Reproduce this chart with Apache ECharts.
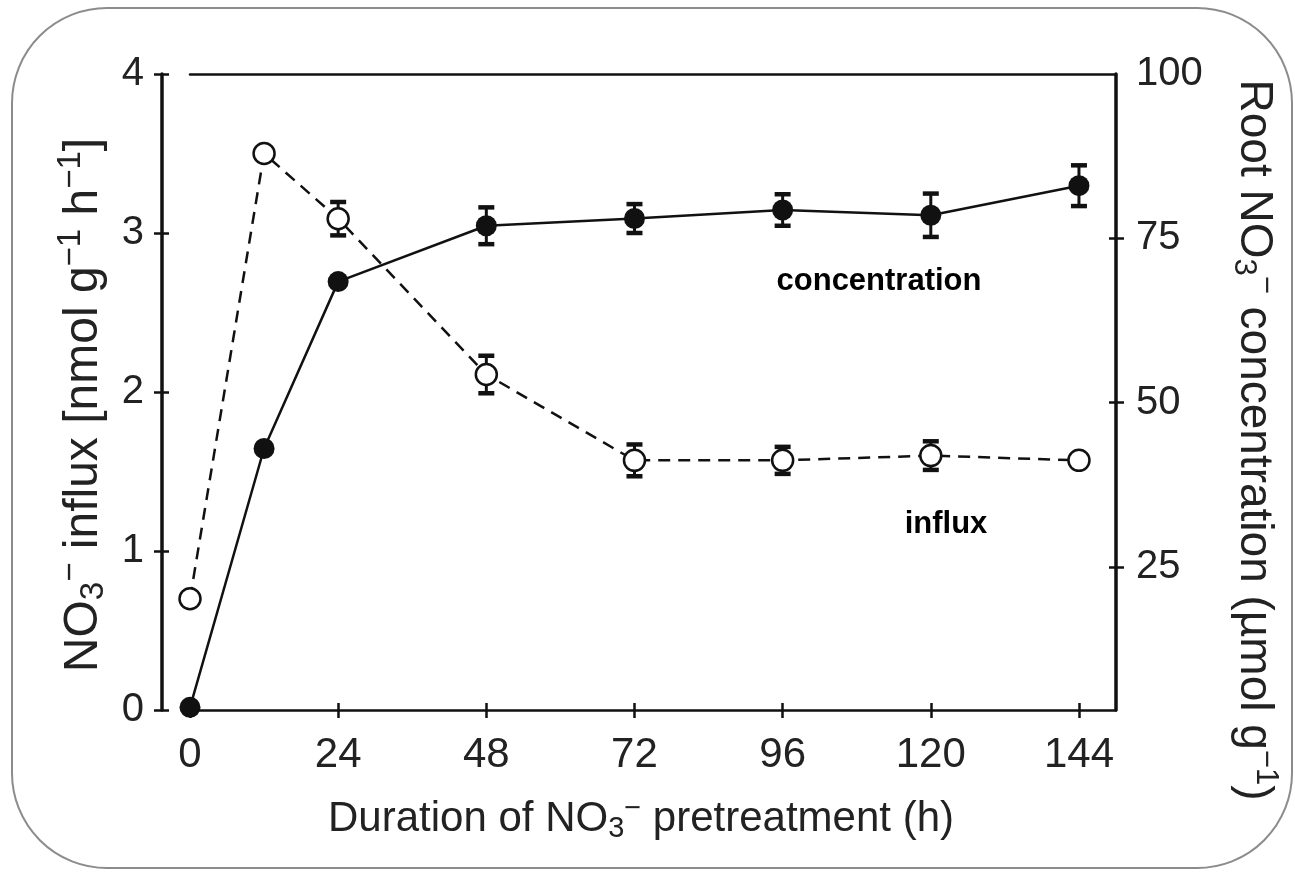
<!DOCTYPE html>
<html>
<head>
<meta charset="utf-8">
<script src="https://cdn.jsdelivr.net/npm/echarts@6/dist/echarts.min.js"></script>
<style>
html,body{margin:0;padding:0;background:#fff;}
#chart{width:1295px;height:874px;}
</style>
</head>
<body>
<div id="chart"></div>
<script>
// ---- data ----
const hours = [0, 12, 24, 48, 72, 96, 120, 144];
const influx = [0.70, 3.50, 3.09, 2.11, 1.57, 1.57, 1.60, 1.57];
const influxErr = [0, 0, 0.105, 0.118, 0.10, 0.085, 0.09, 0];
const concentration = [3.6, 43.0, 68.4, 76.9, 78.0, 79.3, 78.5, 83.0];
const concentrationErr = [0, 0, 0, 2.8, 2.2, 2.4, 3.3, 3.1];
const xTicks = [0, 24, 48, 72, 96, 120, 144];
const leftTicks = [0, 1, 2, 3, 4];
const rightLabels = [25, 50, 75, 100];
const rightTickMarks = [25, 50, 75];
const labelConcentration = 'concentration';
const labelInflux = 'influx';

const FONT = '"Liberation Sans", Arial, Helvetica, sans-serif';
const INK = '#111';
const TXT = '#222';

const chart = echarts.init(document.getElementById('chart'), null, {renderer: 'canvas'});

function richStyles(size) {
  return {
    n: {fontSize: size, fontFamily: FONT, color: TXT},
    sub: {fontSize: Math.round(size * 0.68), fontFamily: FONT, color: TXT, padding: [Math.round(size * 0.45), 0, 0, 0]},
    sup: {fontSize: Math.round(size * 0.68), fontFamily: FONT, color: TXT, padding: [0, 0, Math.round(size * 0.5), 0]}
  };
}

const pts = (ys) => hours.map((h, i) => [h, ys[i]]);
const errPts = (ys, es) => hours.map((h, i) => [h, ys[i], es[i]]);

function errorBar(params, api) {
  const x = api.value(0), y = api.value(1), e = api.value(2);
  if (!e) return null;
  const t = api.coord([x, y + e]);
  const b = api.coord([x, y - e]);
  const hw = 8;
  return {
    type: 'group',
    children: [
      {type: 'line', shape: {x1: t[0], y1: t[1], x2: b[0], y2: b[1]}, style: {stroke: INK, lineWidth: 3}},
      {type: 'line', shape: {x1: t[0] - hw, y1: t[1], x2: t[0] + hw, y2: t[1]}, style: {stroke: INK, lineWidth: 4.5}},
      {type: 'line', shape: {x1: b[0] - hw, y1: b[1], x2: b[0] + hw, y2: b[1]}, style: {stroke: INK, lineWidth: 4.5}}
    ]
  };
}

const hidden = {axisLine: {show: false}, axisLabel: {show: false}, splitLine: {show: false}};
const xBase = {type: 'value', min: 0, max: 150};
const yLeftBase = {type: 'value', min: 0, max: 4, interval: 1, position: 'left', offset: 28};
const yRightBase = {type: 'value', min: 3.2, max: 100, position: 'right'};
const gridRect = {left: 190, right: 179, top: 74, bottom: 164, containLabel: false};

const option = {
  animation: false,
  backgroundColor: '#fff',
  grid: [Object.assign({}, gridRect), Object.assign({}, gridRect)],
  graphic: [
    {type: 'rect', shape: {x: 12, y: 8, width: 1280, height: 860, r: 95},
     style: {fill: 'none', stroke: '#8c8c8c', lineWidth: 2}, z: -10, silent: true},
    {type: 'text', x: 879, y: 281, style: {text: labelConcentration, font: 'bold 31px ' + FONT, fill: '#000', align: 'center', verticalAlign: 'middle'}},
    {type: 'text', x: 946, y: 524, style: {text: labelInflux, font: 'bold 31px ' + FONT, fill: '#000', align: 'center', verticalAlign: 'middle'}}
  ],
  xAxis: [
    // main bottom axis
    Object.assign({}, xBase, {
      gridIndex: 0, position: 'bottom',
      name: '{n|Duration of NO}{sub|3}{sup|−}{n| pretreatment (h)}',
      nameLocation: 'middle', nameGap: 84,
      nameTextStyle: {rich: richStyles(42), padding: [0, 24, 0, 0]},
      axisLine: {show: true, onZero: false, lineStyle: {color: INK, width: 2.5}},
      axisTick: {show: true, inside: false, length: 8, customValues: xTicks, lineStyle: {color: INK, width: 2.5}},
      axisLabel: {show: true, customValues: xTicks, margin: 24, fontSize: 42, fontFamily: FONT, color: TXT},
      splitLine: {show: false}
    }),
    // top frame line
    Object.assign({}, xBase, {
      gridIndex: 0, position: 'top',
      axisLine: {show: true, onZero: false, lineStyle: {color: INK, width: 2.5}},
      axisTick: {show: false}, axisLabel: {show: false}, splitLine: {show: false}
    }),
    // inside ticks of bottom axis
    Object.assign({}, xBase, hidden, {
      gridIndex: 1, position: 'bottom',
      axisLine: {show: false, onZero: false},
      axisTick: {show: true, inside: true, length: 7, customValues: xTicks, lineStyle: {color: INK, width: 2.5}}
    })
  ],
  yAxis: [
    // left axis (influx)
    Object.assign({}, yLeftBase, {
      gridIndex: 0,
      name: '{n|NO}{sub|3}{sup|−}{n| influx [nmol g}{sup|−1}{n| h}{sup|−1}{n|]}',
      nameLocation: 'middle', nameGap: 50, nameRotate: 90,
      nameTextStyle: {rich: richStyles(48), padding: [0, 26, 0, 0]},
      axisLine: {show: true, onZero: false, lineStyle: {color: INK, width: 3.5}},
      axisTick: {show: true, inside: false, length: 8, customValues: leftTicks, lineStyle: {color: INK, width: 2.5}},
      axisLabel: {show: true, customValues: leftTicks, margin: 18, fontSize: 40, fontFamily: FONT, color: TXT},
      splitLine: {show: false}
    }),
    // right axis (concentration)
    Object.assign({}, yRightBase, {
      gridIndex: 0,
      name: '{n|Root NO}{sub|3}{sup|−}{n| concentration (µmol g}{sup|−1}{n|)}',
      nameLocation: 'middle', nameGap: 111, nameRotate: -90,
      nameTextStyle: {rich: richStyles(46), padding: [0, 0, 0, 96]},
      axisLine: {show: true, onZero: false, lineStyle: {color: INK, width: 3.5}},
      axisTick: {show: true, inside: false, length: 8, customValues: rightTickMarks, lineStyle: {color: INK, width: 2.5}},
      axisLabel: {show: true, customValues: rightLabels, margin: 20, fontSize: 40, fontFamily: FONT, color: TXT},
      splitLine: {show: false}
    }),
    // inside ticks of left axis
    Object.assign({}, yLeftBase, hidden, {
      gridIndex: 1,
      axisLine: {show: false, onZero: false},
      axisTick: {show: true, inside: true, length: 7, customValues: leftTicks, lineStyle: {color: INK, width: 2.5}}
    }),
    // inside ticks of right axis
    Object.assign({}, yRightBase, hidden, {
      gridIndex: 1,
      axisLine: {show: false, onZero: false},
      axisTick: {show: true, inside: true, length: 7, customValues: rightTickMarks, lineStyle: {color: INK, width: 2.5}}
    })
  ],
  series: [
    {
      name: 'influx error', type: 'custom', xAxisIndex: 0, yAxisIndex: 0, z: 1,
      renderItem: errorBar, data: errPts(influx, influxErr), silent: true
    },
    {
      name: 'concentration error', type: 'custom', xAxisIndex: 0, yAxisIndex: 1, z: 1,
      renderItem: errorBar, data: errPts(concentration, concentrationErr), silent: true
    },
    {
      name: 'influx', type: 'line', xAxisIndex: 0, yAxisIndex: 0, z: 3, clip: false,
      data: pts(influx),
      symbol: 'circle', symbolSize: 21,
      lineStyle: {color: INK, width: 2.5, type: [12, 8]},
      itemStyle: {color: '#fff', borderColor: INK, borderWidth: 2.5}
    },
    {
      name: 'concentration', type: 'line', xAxisIndex: 0, yAxisIndex: 1, z: 2, clip: false,
      data: pts(concentration),
      symbol: 'circle', symbolSize: 21,
      lineStyle: {color: INK, width: 2.5},
      itemStyle: {color: INK, borderColor: INK, borderWidth: 0}
    }
  ]
};
chart.setOption(option);
</script>
</body>
</html>
